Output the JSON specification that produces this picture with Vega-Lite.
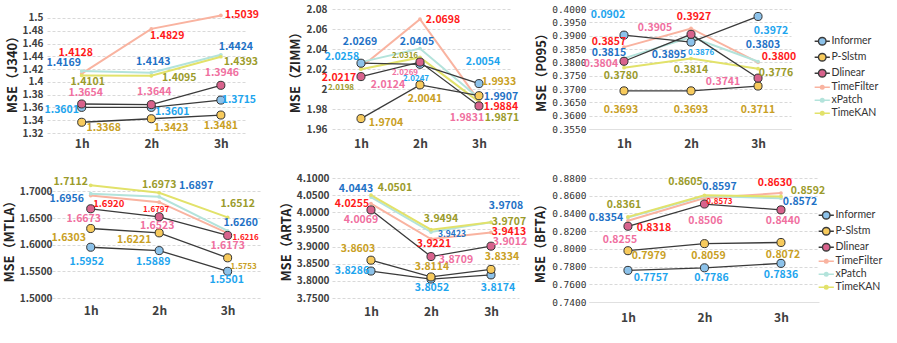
{
"$schema":"https://vega.github.io/schema/vega-lite/v6.json",
"padding":{"left":3,"top":4,"right":5,"bottom":5},
"bounds":"flush",
"columns":3,
"spacing":{"row":45,"column":70},
"config":{
 "view":{"stroke":null},
 "axis":{"grid":true,"gridColor":"#d9d9d9","gridDash":[3,2],"ticks":false,"tickSize":0,"domain":false,"labelColor":"#404040","labelFont":"Noto Sans CJK SC","labelFontWeight":"bold","labelFontSize":10,"titleFont":"Noto Sans CJK SC","titleFontSize":13,"titleFontWeight":"bold","titleColor":"#222222"},
 "axisX":{"grid":false,"labelFontSize":12,"labelAngle":0,"title":null},
 "text":{"font":"Noto Sans CJK SC","fontWeight":"bold","fontSize":10.5,"align":"center","baseline":"middle"}
},
"resolve":{"scale":{"stroke":"independent","fill":"independent"},"legend":{"stroke":"independent","fill":"independent"}},
"datasets":{"d":[
{"panel":"J340","model":"Informer","hour":"1h","mse":1.3601,"label":"1.3601"},
{"panel":"J340","model":"Informer","hour":"2h","mse":1.3601,"label":"1.3601"},
{"panel":"J340","model":"Informer","hour":"3h","mse":1.3715,"label":"1.3715"},
{"panel":"J340","model":"P-Slstm","hour":"1h","mse":1.3368,"label":"1.3368"},
{"panel":"J340","model":"P-Slstm","hour":"2h","mse":1.3423,"label":"1.3423"},
{"panel":"J340","model":"P-Slstm","hour":"3h","mse":1.3481,"label":"1.3481"},
{"panel":"J340","model":"Dlinear","hour":"1h","mse":1.3654,"label":"1.3654"},
{"panel":"J340","model":"Dlinear","hour":"2h","mse":1.3644,"label":"1.3644"},
{"panel":"J340","model":"Dlinear","hour":"3h","mse":1.3946,"label":"1.3946"},
{"panel":"J340","model":"TimeFilter","hour":"1h","mse":1.4128,"label":"1.4128"},
{"panel":"J340","model":"TimeFilter","hour":"2h","mse":1.4829,"label":"1.4829"},
{"panel":"J340","model":"TimeFilter","hour":"3h","mse":1.5039,"label":"1.5039"},
{"panel":"J340","model":"xPatch","hour":"1h","mse":1.4169,"label":"1.4169"},
{"panel":"J340","model":"xPatch","hour":"2h","mse":1.4143,"label":"1.4143"},
{"panel":"J340","model":"xPatch","hour":"3h","mse":1.4424,"label":"1.4424"},
{"panel":"J340","model":"TimeKAN","hour":"1h","mse":1.4101,"label":"1.4101"},
{"panel":"J340","model":"TimeKAN","hour":"2h","mse":1.4095,"label":"1.4095"},
{"panel":"J340","model":"TimeKAN","hour":"3h","mse":1.4393,"label":"1.4393"},
{"panel":"ZIMM","model":"Informer","hour":"1h","mse":2.0258,"label":"2.0258"},
{"panel":"ZIMM","model":"Informer","hour":"2h","mse":2.0247,"label":"2.0247"},
{"panel":"ZIMM","model":"Informer","hour":"3h","mse":2.0054,"label":"2.0054"},
{"panel":"ZIMM","model":"P-Slstm","hour":"1h","mse":1.9704,"label":"1.9704"},
{"panel":"ZIMM","model":"P-Slstm","hour":"2h","mse":2.0041,"label":"2.0041"},
{"panel":"ZIMM","model":"P-Slstm","hour":"3h","mse":1.9933,"label":"1.9933"},
{"panel":"ZIMM","model":"Dlinear","hour":"1h","mse":2.0124,"label":"2.0124"},
{"panel":"ZIMM","model":"Dlinear","hour":"2h","mse":2.0269,"label":"2.0269"},
{"panel":"ZIMM","model":"Dlinear","hour":"3h","mse":1.9831,"label":"1.9831"},
{"panel":"ZIMM","model":"TimeFilter","hour":"1h","mse":2.0217,"label":"2.0217"},
{"panel":"ZIMM","model":"TimeFilter","hour":"2h","mse":2.0698,"label":"2.0698"},
{"panel":"ZIMM","model":"TimeFilter","hour":"3h","mse":1.9884,"label":"1.9884"},
{"panel":"ZIMM","model":"xPatch","hour":"1h","mse":2.0269,"label":"2.0269"},
{"panel":"ZIMM","model":"xPatch","hour":"2h","mse":2.0405,"label":"2.0405"},
{"panel":"ZIMM","model":"xPatch","hour":"3h","mse":1.9907,"label":"1.9907"},
{"panel":"ZIMM","model":"TimeKAN","hour":"1h","mse":2.0198,"label":"2.0198"},
{"panel":"ZIMM","model":"TimeKAN","hour":"2h","mse":2.0316,"label":"2.0316"},
{"panel":"ZIMM","model":"TimeKAN","hour":"3h","mse":1.9871,"label":"1.9871"},
{"panel":"P095","model":"Informer","hour":"1h","mse":0.3902,"label":"0.0902"},
{"panel":"P095","model":"Informer","hour":"2h","mse":0.3876,"label":"0.3876"},
{"panel":"P095","model":"Informer","hour":"3h","mse":0.3972,"label":"0.3972"},
{"panel":"P095","model":"P-Slstm","hour":"1h","mse":0.3693,"label":"0.3693"},
{"panel":"P095","model":"P-Slstm","hour":"2h","mse":0.3693,"label":"0.3693"},
{"panel":"P095","model":"P-Slstm","hour":"3h","mse":0.3711,"label":"0.3711"},
{"panel":"P095","model":"Dlinear","hour":"1h","mse":0.3804,"label":"0.3804"},
{"panel":"P095","model":"Dlinear","hour":"2h","mse":0.3905,"label":"0.3905"},
{"panel":"P095","model":"Dlinear","hour":"3h","mse":0.3741,"label":"0.3741"},
{"panel":"P095","model":"TimeFilter","hour":"1h","mse":0.3857,"label":"0.3857"},
{"panel":"P095","model":"TimeFilter","hour":"2h","mse":0.3927,"label":"0.3927"},
{"panel":"P095","model":"TimeFilter","hour":"3h","mse":0.3800,"label":"0.3800"},
{"panel":"P095","model":"xPatch","hour":"1h","mse":0.3815,"label":"0.3815"},
{"panel":"P095","model":"xPatch","hour":"2h","mse":0.3895,"label":"0.3895"},
{"panel":"P095","model":"xPatch","hour":"3h","mse":0.3803,"label":"0.3803"},
{"panel":"P095","model":"TimeKAN","hour":"1h","mse":0.3780,"label":"0.3780"},
{"panel":"P095","model":"TimeKAN","hour":"2h","mse":0.3814,"label":"0.3814"},
{"panel":"P095","model":"TimeKAN","hour":"3h","mse":0.3776,"label":"0.3776"},
{"panel":"MTLA","model":"Informer","hour":"1h","mse":1.5952,"label":"1.5952"},
{"panel":"MTLA","model":"Informer","hour":"2h","mse":1.5889,"label":"1.5889"},
{"panel":"MTLA","model":"Informer","hour":"3h","mse":1.5501,"label":"1.5501"},
{"panel":"MTLA","model":"P-Slstm","hour":"1h","mse":1.6303,"label":"1.6303"},
{"panel":"MTLA","model":"P-Slstm","hour":"2h","mse":1.6221,"label":"1.6221"},
{"panel":"MTLA","model":"P-Slstm","hour":"3h","mse":1.5753,"label":"1.5753"},
{"panel":"MTLA","model":"Dlinear","hour":"1h","mse":1.6673,"label":"1.6673"},
{"panel":"MTLA","model":"Dlinear","hour":"2h","mse":1.6523,"label":"1.6523"},
{"panel":"MTLA","model":"Dlinear","hour":"3h","mse":1.6173,"label":"1.6173"},
{"panel":"MTLA","model":"TimeFilter","hour":"1h","mse":1.6920,"label":"1.6920"},
{"panel":"MTLA","model":"TimeFilter","hour":"2h","mse":1.6797,"label":"1.6797"},
{"panel":"MTLA","model":"TimeFilter","hour":"3h","mse":1.6216,"label":"1.6216"},
{"panel":"MTLA","model":"xPatch","hour":"1h","mse":1.6956,"label":"1.6956"},
{"panel":"MTLA","model":"xPatch","hour":"2h","mse":1.6897,"label":"1.6897"},
{"panel":"MTLA","model":"xPatch","hour":"3h","mse":1.6260,"label":"1.6260"},
{"panel":"MTLA","model":"TimeKAN","hour":"1h","mse":1.7112,"label":"1.7112"},
{"panel":"MTLA","model":"TimeKAN","hour":"2h","mse":1.6973,"label":"1.6973"},
{"panel":"MTLA","model":"TimeKAN","hour":"3h","mse":1.6512,"label":"1.6512"},
{"panel":"ARTA","model":"Informer","hour":"1h","mse":3.8286,"label":"3.8286"},
{"panel":"ARTA","model":"Informer","hour":"2h","mse":3.8052,"label":"3.8052"},
{"panel":"ARTA","model":"Informer","hour":"3h","mse":3.8174,"label":"3.8174"},
{"panel":"ARTA","model":"P-Slstm","hour":"1h","mse":3.8603,"label":"3.8603"},
{"panel":"ARTA","model":"P-Slstm","hour":"2h","mse":3.8114,"label":"3.8114"},
{"panel":"ARTA","model":"P-Slstm","hour":"3h","mse":3.8334,"label":"3.8334"},
{"panel":"ARTA","model":"Dlinear","hour":"1h","mse":4.0069,"label":"4.0069"},
{"panel":"ARTA","model":"Dlinear","hour":"2h","mse":3.8709,"label":"3.8709"},
{"panel":"ARTA","model":"Dlinear","hour":"3h","mse":3.9012,"label":"3.9012"},
{"panel":"ARTA","model":"TimeFilter","hour":"1h","mse":4.0255,"label":"4.0255"},
{"panel":"ARTA","model":"TimeFilter","hour":"2h","mse":3.9221,"label":"3.9221"},
{"panel":"ARTA","model":"TimeFilter","hour":"3h","mse":3.9413,"label":"3.9413"},
{"panel":"ARTA","model":"xPatch","hour":"1h","mse":4.0443,"label":"4.0443"},
{"panel":"ARTA","model":"xPatch","hour":"2h","mse":3.9423,"label":"3.9423"},
{"panel":"ARTA","model":"xPatch","hour":"3h","mse":3.9708,"label":"3.9708"},
{"panel":"ARTA","model":"TimeKAN","hour":"1h","mse":4.0501,"label":"4.0501"},
{"panel":"ARTA","model":"TimeKAN","hour":"2h","mse":3.9494,"label":"3.9494"},
{"panel":"ARTA","model":"TimeKAN","hour":"3h","mse":3.9707,"label":"3.9707"},
{"panel":"BFTA","model":"Informer","hour":"1h","mse":0.7757,"label":"0.7757"},
{"panel":"BFTA","model":"Informer","hour":"2h","mse":0.7786,"label":"0.7786"},
{"panel":"BFTA","model":"Informer","hour":"3h","mse":0.7836,"label":"0.7836"},
{"panel":"BFTA","model":"P-Slstm","hour":"1h","mse":0.7979,"label":"0.7979"},
{"panel":"BFTA","model":"P-Slstm","hour":"2h","mse":0.8059,"label":"0.8059"},
{"panel":"BFTA","model":"P-Slstm","hour":"3h","mse":0.8072,"label":"0.8072"},
{"panel":"BFTA","model":"Dlinear","hour":"1h","mse":0.8255,"label":"0.8255"},
{"panel":"BFTA","model":"Dlinear","hour":"2h","mse":0.8506,"label":"0.8506"},
{"panel":"BFTA","model":"Dlinear","hour":"3h","mse":0.8440,"label":"0.8440"},
{"panel":"BFTA","model":"TimeFilter","hour":"1h","mse":0.8318,"label":"0.8318"},
{"panel":"BFTA","model":"TimeFilter","hour":"2h","mse":0.8573,"label":"0.8573"},
{"panel":"BFTA","model":"TimeFilter","hour":"3h","mse":0.8630,"label":"0.8630"},
{"panel":"BFTA","model":"xPatch","hour":"1h","mse":0.8354,"label":"0.8354"},
{"panel":"BFTA","model":"xPatch","hour":"2h","mse":0.8597,"label":"0.8597"},
{"panel":"BFTA","model":"xPatch","hour":"3h","mse":0.8572,"label":"0.8572"},
{"panel":"BFTA","model":"TimeKAN","hour":"1h","mse":0.8361,"label":"0.8361"},
{"panel":"BFTA","model":"TimeKAN","hour":"2h","mse":0.8605,"label":"0.8605"},
{"panel":"BFTA","model":"TimeKAN","hour":"3h","mse":0.8592,"label":"0.8592"}
]},
"concat":[
{"width":199,"height":124,"data":{"name":"d"},"transform":[{"filter":"datum.panel=='J340'"}],
 "encoding":{"x":{"field":"hour","type":"ordinal","scale":{"type":"point","padding":0.43,"align":0.58},"axis":{"labelPadding":5}},
  "y":{"field":"mse","type":"quantitative","scale":{"domain":[1.32,1.514],"nice":false,"zero":false},"axis":{"title":"MSE（J340）","values":[1.32,1.34,1.36,1.38,1.4,1.42,1.44,1.46,1.48,1.5],"format":"~f","labelPadding":4,"titlePadding":3}}},
 "layer":[
  {"transform":[{"filter":"indexof(['TimeFilter','xPatch','TimeKAN'],datum.model)>=0"}],"mark":{"type":"line","strokeWidth":2},"encoding":{"stroke":{"field":"model","type":"nominal","scale":{"domain":["Informer","P-Slstm","Dlinear","TimeFilter","xPatch","TimeKAN"],"range":["#3a3a3a","#3a3a3a","#3a3a3a","#f9b3a0","#b3e3db","#e2e26a"]},"legend":null}}},
  {"transform":[{"filter":"indexof(['Informer','P-Slstm','Dlinear'],datum.model)>=0"}],"mark":{"type":"line","strokeWidth":1.3},"encoding":{"stroke":{"field":"model","type":"nominal","scale":{"domain":["Informer","P-Slstm","Dlinear","TimeFilter","xPatch","TimeKAN"],"range":["#3a3a3a","#3a3a3a","#3a3a3a","#f9b3a0","#b3e3db","#e2e26a"]},"legend":null}}},
  {"transform":[{"filter":"indexof(['TimeFilter','xPatch','TimeKAN'],datum.model)>=0"}],"mark":{"type":"point","filled":true,"size":14,"opacity":1},"encoding":{"fill":{"field":"model","type":"nominal","scale":{"domain":["Informer","P-Slstm","Dlinear","TimeFilter","xPatch","TimeKAN"],"range":["#8cc2ea","#f7ca5c","#d8628c","#f9b3a0","#b3e3db","#e2e26a"]},"legend":null}}},
  {"transform":[{"filter":"indexof(['Informer','P-Slstm','Dlinear'],datum.model)>=0"}],"mark":{"type":"point","filled":true,"size":65,"stroke":"#333333","strokeWidth":1,"opacity":1},"encoding":{"fill":{"field":"model","type":"nominal","scale":{"domain":["Informer","P-Slstm","Dlinear","TimeFilter","xPatch","TimeKAN"],"range":["#8cc2ea","#f7ca5c","#d8628c","#f9b3a0","#b3e3db","#e2e26a"]},"legend":null}}},
  {"transform":[{"filter":"datum.model=='Informer'"}],"encoding":{"text":{"field":"label","type":"nominal"},"color":{"value":"#1ea5ee"}},"layer":[
   {"transform":[{"filter":"datum.hour=='1h'"}],"mark":{"type":"text","dx":-20,"dy":3}},
   {"transform":[{"filter":"datum.hour=='2h'"}],"mark":{"type":"text","dx":21,"dy":5}},
   {"transform":[{"filter":"datum.hour=='3h'"}],"mark":{"type":"text","dx":18,"dy":0}}]},
  {"transform":[{"filter":"datum.model=='P-Slstm'"}],"encoding":{"text":{"field":"label","type":"nominal"},"color":{"value":"#c9a024"}},"layer":[
   {"transform":[{"filter":"datum.hour=='1h'"}],"mark":{"type":"text","dx":22,"dy":6}},
   {"transform":[{"filter":"datum.hour=='2h'"}],"mark":{"type":"text","dx":20,"dy":9}},
   {"transform":[{"filter":"datum.hour=='3h'"}],"mark":{"type":"text","dx":0,"dy":11}}]},
  {"transform":[{"filter":"datum.model=='Dlinear'"}],"encoding":{"text":{"field":"label","type":"nominal"},"color":{"value":"#f0709f"}},"layer":[
   {"transform":[{"filter":"datum.hour=='1h'"}],"mark":{"type":"text","dx":4,"dy":-11}},
   {"transform":[{"filter":"datum.hour=='2h'"}],"mark":{"type":"text","dx":3,"dy":-13}},
   {"transform":[{"filter":"datum.hour=='3h'"}],"mark":{"type":"text","dx":1,"dy":-12}}]},
  {"transform":[{"filter":"datum.model=='TimeFilter'"}],"encoding":{"text":{"field":"label","type":"nominal"},"color":{"value":"#ff1a1a"}},"layer":[
   {"transform":[{"filter":"datum.hour=='1h'"}],"mark":{"type":"text","dx":-6,"dy":-21}},
   {"transform":[{"filter":"datum.hour=='2h'"}],"mark":{"type":"text","dx":16,"dy":7}},
   {"transform":[{"filter":"datum.hour=='3h'"}],"mark":{"type":"text","dx":21,"dy":0}}]},
  {"transform":[{"filter":"datum.model=='xPatch'"}],"encoding":{"text":{"field":"label","type":"nominal"},"color":{"value":"#1f72c6"}},"layer":[
   {"transform":[{"filter":"datum.hour=='1h'"}],"mark":{"type":"text","dx":-18,"dy":-8}},
   {"transform":[{"filter":"datum.hour=='2h'"}],"mark":{"type":"text","dx":2,"dy":-11}},
   {"transform":[{"filter":"datum.hour=='3h'"}],"mark":{"type":"text","dx":15,"dy":-8}}]},
  {"transform":[{"filter":"datum.model=='TimeKAN'"}],"encoding":{"text":{"field":"label","type":"nominal"},"color":{"value":"#9b9b2b"}},"layer":[
   {"transform":[{"filter":"datum.hour=='1h'"}],"mark":{"type":"text","dx":6,"dy":7}},
   {"transform":[{"filter":"datum.hour=='2h'"}],"mark":{"type":"text","dx":28,"dy":2}},
   {"transform":[{"filter":"datum.hour=='3h'"}],"mark":{"type":"text","dx":20,"dy":5}}]}
 ]},
{"width":179,"height":120,"data":{"name":"d"},"transform":[{"filter":"datum.panel=='ZIMM'"}],
 "encoding":{"x":{"field":"hour","type":"ordinal","scale":{"type":"point","padding":0.517,"align":0.475},"axis":{"labelPadding":9}},
  "y":{"field":"mse","type":"quantitative","scale":{"domain":[1.96,2.08],"nice":false,"zero":false},"axis":{"title":"MSE（ZIMM）","values":[1.96,1.98,2,2.02,2.04,2.06,2.08],"format":"~f","labelPadding":5,"titlePadding":4}}},
 "layer":[
  {"transform":[{"filter":"indexof(['TimeFilter','xPatch','TimeKAN'],datum.model)>=0"}],"mark":{"type":"line","strokeWidth":2},"encoding":{"stroke":{"field":"model","type":"nominal","scale":{"domain":["Informer","P-Slstm","Dlinear","TimeFilter","xPatch","TimeKAN"],"range":["#3a3a3a","#3a3a3a","#3a3a3a","#f9b3a0","#b3e3db","#e2e26a"]},"legend":null}}},
  {"transform":[{"filter":"indexof(['Informer','P-Slstm','Dlinear'],datum.model)>=0"}],"mark":{"type":"line","strokeWidth":1.3},"encoding":{"stroke":{"field":"model","type":"nominal","scale":{"domain":["Informer","P-Slstm","Dlinear","TimeFilter","xPatch","TimeKAN"],"range":["#3a3a3a","#3a3a3a","#3a3a3a","#f9b3a0","#b3e3db","#e2e26a"]},"legend":null}}},
  {"transform":[{"filter":"indexof(['TimeFilter','xPatch','TimeKAN'],datum.model)>=0"}],"mark":{"type":"point","filled":true,"size":14,"opacity":1},"encoding":{"fill":{"field":"model","type":"nominal","scale":{"domain":["Informer","P-Slstm","Dlinear","TimeFilter","xPatch","TimeKAN"],"range":["#8cc2ea","#f7ca5c","#d8628c","#f9b3a0","#b3e3db","#e2e26a"]},"legend":null}}},
  {"transform":[{"filter":"indexof(['Informer','P-Slstm','Dlinear'],datum.model)>=0"}],"mark":{"type":"point","filled":true,"size":65,"stroke":"#333333","strokeWidth":1,"opacity":1},"encoding":{"fill":{"field":"model","type":"nominal","scale":{"domain":["Informer","P-Slstm","Dlinear","TimeFilter","xPatch","TimeKAN"],"range":["#8cc2ea","#f7ca5c","#d8628c","#f9b3a0","#b3e3db","#e2e26a"]},"legend":null}}},
  {"transform":[{"filter":"datum.model=='Informer'"}],"encoding":{"text":{"field":"label","type":"nominal"},"color":{"value":"#1ea5ee"}},"layer":[
   {"transform":[{"filter":"datum.hour=='1h'"}],"mark":{"type":"text","dx":-19,"dy":-6}},
   {"transform":[{"filter":"datum.hour=='2h'"}],"mark":{"type":"text","dx":-4,"dy":15,"fontSize":8}},
   {"transform":[{"filter":"datum.hour=='3h'"}],"mark":{"type":"text","dx":4,"dy":-22}}]},
  {"transform":[{"filter":"datum.model=='P-Slstm'"}],"encoding":{"text":{"field":"label","type":"nominal"},"color":{"value":"#c9a024"}},"layer":[
   {"transform":[{"filter":"datum.hour=='1h'"}],"mark":{"type":"text","dx":25,"dy":4}},
   {"transform":[{"filter":"datum.hour=='2h'"}],"mark":{"type":"text","dx":5,"dy":14}},
   {"transform":[{"filter":"datum.hour=='3h'"}],"mark":{"type":"text","dx":20,"dy":-14}}]},
  {"transform":[{"filter":"datum.model=='Dlinear'"}],"encoding":{"text":{"field":"label","type":"nominal"},"color":{"value":"#f0709f"}},"layer":[
   {"transform":[{"filter":"datum.hour=='1h'"}],"mark":{"type":"text","dx":27,"dy":8}},
   {"transform":[{"filter":"datum.hour=='2h'"}],"mark":{"type":"text","dx":-15,"dy":11,"fontSize":8}},
   {"transform":[{"filter":"datum.hour=='3h'"}],"mark":{"type":"text","dx":-12,"dy":12}}]},
  {"transform":[{"filter":"datum.model=='TimeFilter'"}],"encoding":{"text":{"field":"label","type":"nominal"},"color":{"value":"#ff1a1a"}},"layer":[
   {"transform":[{"filter":"datum.hour=='1h'"}],"mark":{"type":"text","dx":-22,"dy":11}},
   {"transform":[{"filter":"datum.hour=='2h'"}],"mark":{"type":"text","dx":23,"dy":1}},
   {"transform":[{"filter":"datum.hour=='3h'"}],"mark":{"type":"text","dx":22,"dy":6}}]},
  {"transform":[{"filter":"datum.model=='xPatch'"}],"encoding":{"text":{"field":"label","type":"nominal"},"color":{"value":"#1f72c6"}},"layer":[
   {"transform":[{"filter":"datum.hour=='1h'"}],"mark":{"type":"text","dx":-1,"dy":-20}},
   {"transform":[{"filter":"datum.hour=='2h'"}],"mark":{"type":"text","dx":-3,"dy":-7}},
   {"transform":[{"filter":"datum.hour=='3h'"}],"mark":{"type":"text","dx":22,"dy":-1}}]},
  {"transform":[{"filter":"datum.model=='TimeKAN'"}],"encoding":{"text":{"field":"label","type":"nominal"},"color":{"value":"#9b9b2b"}},"layer":[
   {"transform":[{"filter":"datum.hour=='1h'"}],"mark":{"type":"text","dx":-20,"dy":19,"fontSize":8}},
   {"transform":[{"filter":"datum.hour=='2h'"}],"mark":{"type":"text","dx":-15,"dy":-1,"fontSize":8}},
   {"transform":[{"filter":"datum.hour=='3h'"}],"mark":{"type":"text","dx":23,"dy":16}}]}
 ]},
{"width":202,"height":120,"data":{"name":"d"},"transform":[{"filter":"datum.panel=='P095'"}],
 "encoding":{"x":{"field":"hour","type":"ordinal","scale":{"type":"point","padding":0.507,"align":0.515},"axis":{"labelPadding":9,"domain":true,"domainColor":"#e0e0e0"}},
  "y":{"field":"mse","type":"quantitative","scale":{"domain":[0.355,0.4],"nice":false,"zero":false},"axis":{"title":"MSE（P095）","values":[0.355,0.36,0.365,0.37,0.375,0.38,0.385,0.39,0.395,0.4],"format":".4f","labelFont":"DejaVu Sans Mono","labelFontWeight":"normal","labelFontSize":9.5,"labelColor":"#333333","labelPadding":3,"titlePadding":3}}},
 "layer":[
  {"transform":[{"filter":"indexof(['TimeFilter','xPatch','TimeKAN'],datum.model)>=0"}],"mark":{"type":"line","strokeWidth":2},"encoding":{"stroke":{"field":"model","type":"nominal","scale":{"domain":["Informer","P-Slstm","Dlinear","TimeFilter","xPatch","TimeKAN"],"range":["#3a3a3a","#3a3a3a","#3a3a3a","#f9b3a0","#b3e3db","#e2e26a"]},"legend":{"orient":"none","legendX":228,"legendY":27,"title":null,"padding":0,"symbolSize":64,"symbolStrokeWidth":1.4,"labelOffset":4,"rowPadding":2,"labelFont":"Lato","labelFontSize":10.5,"labelColor":"#333333","encode":{"symbols":{"update":{"shape":{"signal":"indexof(['Informer','P-Slstm','Dlinear'],datum.value)>=0?'M-1.9,0H-0.95M0.95,0H1.9M-0.95,0A0.95,0.95,0,1,0,0.95,0A0.95,0.95,0,1,0,-0.95,0Z':'M-1.9,0H1.9M-0.45,0A0.45,0.45,0,1,0,0.45,0A0.45,0.45,0,1,0,-0.45,0Z'"},"fill":{"signal":"datum.value==='Informer'?'#8cc2ea':datum.value==='P-Slstm'?'#f7ca5c':datum.value==='Dlinear'?'#d8628c':datum.value==='TimeFilter'?'#f9b3a0':datum.value==='xPatch'?'#b3e3db':'#e2e26a'"},"fillOpacity":{"value":1},"opacity":{"value":1}}}}}}}},
  {"transform":[{"filter":"indexof(['Informer','P-Slstm','Dlinear'],datum.model)>=0"}],"mark":{"type":"line","strokeWidth":1.3},"encoding":{"stroke":{"field":"model","type":"nominal","scale":{"domain":["Informer","P-Slstm","Dlinear","TimeFilter","xPatch","TimeKAN"],"range":["#3a3a3a","#3a3a3a","#3a3a3a","#f9b3a0","#b3e3db","#e2e26a"]},"legend":{"orient":"none","legendX":228,"legendY":27,"title":null,"padding":0,"symbolSize":64,"symbolStrokeWidth":1.4,"labelOffset":4,"rowPadding":2,"labelFont":"Lato","labelFontSize":10.5,"labelColor":"#333333","encode":{"symbols":{"update":{"shape":{"signal":"indexof(['Informer','P-Slstm','Dlinear'],datum.value)>=0?'M-1.9,0H-0.95M0.95,0H1.9M-0.95,0A0.95,0.95,0,1,0,0.95,0A0.95,0.95,0,1,0,-0.95,0Z':'M-1.9,0H1.9M-0.45,0A0.45,0.45,0,1,0,0.45,0A0.45,0.45,0,1,0,-0.45,0Z'"},"fill":{"signal":"datum.value==='Informer'?'#8cc2ea':datum.value==='P-Slstm'?'#f7ca5c':datum.value==='Dlinear'?'#d8628c':datum.value==='TimeFilter'?'#f9b3a0':datum.value==='xPatch'?'#b3e3db':'#e2e26a'"},"fillOpacity":{"value":1},"opacity":{"value":1}}}}}}}},
  {"transform":[{"filter":"indexof(['TimeFilter','xPatch','TimeKAN'],datum.model)>=0"}],"mark":{"type":"point","filled":true,"size":14,"opacity":1},"encoding":{"fill":{"field":"model","type":"nominal","scale":{"domain":["Informer","P-Slstm","Dlinear","TimeFilter","xPatch","TimeKAN"],"range":["#8cc2ea","#f7ca5c","#d8628c","#f9b3a0","#b3e3db","#e2e26a"]},"legend":null}}},
  {"transform":[{"filter":"indexof(['Informer','P-Slstm','Dlinear'],datum.model)>=0"}],"mark":{"type":"point","filled":true,"size":65,"stroke":"#333333","strokeWidth":1,"opacity":1},"encoding":{"fill":{"field":"model","type":"nominal","scale":{"domain":["Informer","P-Slstm","Dlinear","TimeFilter","xPatch","TimeKAN"],"range":["#8cc2ea","#f7ca5c","#d8628c","#f9b3a0","#b3e3db","#e2e26a"]},"legend":null}}},
  {"transform":[{"filter":"datum.model=='Informer'"}],"encoding":{"text":{"field":"label","type":"nominal"},"color":{"value":"#1ea5ee"}},"layer":[
   {"transform":[{"filter":"datum.hour=='1h'"}],"mark":{"type":"text","dx":-16,"dy":-20}},
   {"transform":[{"filter":"datum.hour=='2h'"}],"mark":{"type":"text","dx":10,"dy":11,"fontSize":8}},
   {"transform":[{"filter":"datum.hour=='3h'"}],"mark":{"type":"text","dx":13,"dy":15}}]},
  {"transform":[{"filter":"datum.model=='P-Slstm'"}],"encoding":{"text":{"field":"label","type":"nominal"},"color":{"value":"#c9a024"}},"layer":[
   {"transform":[{"filter":"datum.hour=='1h'"}],"mark":{"type":"text","dx":-3,"dy":19}},
   {"transform":[{"filter":"datum.hour=='2h'"}],"mark":{"type":"text","dx":0,"dy":19}},
   {"transform":[{"filter":"datum.hour=='3h'"}],"mark":{"type":"text","dx":0,"dy":24}}]},
  {"transform":[{"filter":"datum.model=='Dlinear'"}],"encoding":{"text":{"field":"label","type":"nominal"},"color":{"value":"#f0709f"}},"layer":[
   {"transform":[{"filter":"datum.hour=='1h'"}],"mark":{"type":"text","dx":-23,"dy":3}},
   {"transform":[{"filter":"datum.hour=='2h'"}],"mark":{"type":"text","dx":-36,"dy":-6}},
   {"transform":[{"filter":"datum.hour=='3h'"}],"mark":{"type":"text","dx":-35,"dy":4}}]},
  {"transform":[{"filter":"datum.model=='TimeFilter'"}],"encoding":{"text":{"field":"label","type":"nominal"},"color":{"value":"#ff1a1a"}},"layer":[
   {"transform":[{"filter":"datum.hour=='1h'"}],"mark":{"type":"text","dx":-15,"dy":-5}},
   {"transform":[{"filter":"datum.hour=='2h'"}],"mark":{"type":"text","dx":3,"dy":-11}},
   {"transform":[{"filter":"datum.hour=='3h'"}],"mark":{"type":"text","dx":21,"dy":-5}}]},
  {"transform":[{"filter":"datum.model=='xPatch'"}],"encoding":{"text":{"field":"label","type":"nominal"},"color":{"value":"#1f72c6"}},"layer":[
   {"transform":[{"filter":"datum.hour=='1h'"}],"mark":{"type":"text","dx":-15,"dy":-5}},
   {"transform":[{"filter":"datum.hour=='2h'"}],"mark":{"type":"text","dx":-22,"dy":18}},
   {"transform":[{"filter":"datum.hour=='3h'"}],"mark":{"type":"text","dx":5,"dy":-17}}]},
  {"transform":[{"filter":"datum.model=='TimeKAN'"}],"encoding":{"text":{"field":"label","type":"nominal"},"color":{"value":"#9b9b2b"}},"layer":[
   {"transform":[{"filter":"datum.hour=='1h'"}],"mark":{"type":"text","dx":-3,"dy":8}},
   {"transform":[{"filter":"datum.hour=='2h'"}],"mark":{"type":"text","dx":0,"dy":11}},
   {"transform":[{"filter":"datum.hour=='3h'"}],"mark":{"type":"text","dx":18,"dy":4}}]}
 ]},
{"width":215,"height":120,"data":{"name":"d"},"transform":[{"filter":"datum.panel=='MTLA'"}],
 "encoding":{"x":{"field":"hour","type":"ordinal","scale":{"type":"point","padding":0.57,"align":0.56},"axis":{"labelPadding":7}},
  "y":{"field":"mse","type":"quantitative","scale":{"domain":[1.5,1.725],"nice":false,"zero":false},"axis":{"title":"MSE（MTLA）","values":[1.5,1.55,1.6,1.65,1.7],"format":".4f","labelPadding":4,"titlePadding":3,"offset":-9}}},
 "layer":[
  {"transform":[{"filter":"indexof(['TimeFilter','xPatch','TimeKAN'],datum.model)>=0"}],"mark":{"type":"line","strokeWidth":2},"encoding":{"stroke":{"field":"model","type":"nominal","scale":{"domain":["Informer","P-Slstm","Dlinear","TimeFilter","xPatch","TimeKAN"],"range":["#3a3a3a","#3a3a3a","#3a3a3a","#f9b3a0","#b3e3db","#e2e26a"]},"legend":null}}},
  {"transform":[{"filter":"indexof(['Informer','P-Slstm','Dlinear'],datum.model)>=0"}],"mark":{"type":"line","strokeWidth":1.3},"encoding":{"stroke":{"field":"model","type":"nominal","scale":{"domain":["Informer","P-Slstm","Dlinear","TimeFilter","xPatch","TimeKAN"],"range":["#3a3a3a","#3a3a3a","#3a3a3a","#f9b3a0","#b3e3db","#e2e26a"]},"legend":null}}},
  {"transform":[{"filter":"indexof(['TimeFilter','xPatch','TimeKAN'],datum.model)>=0"}],"mark":{"type":"point","filled":true,"size":14,"opacity":1},"encoding":{"fill":{"field":"model","type":"nominal","scale":{"domain":["Informer","P-Slstm","Dlinear","TimeFilter","xPatch","TimeKAN"],"range":["#8cc2ea","#f7ca5c","#d8628c","#f9b3a0","#b3e3db","#e2e26a"]},"legend":null}}},
  {"transform":[{"filter":"indexof(['Informer','P-Slstm','Dlinear'],datum.model)>=0"}],"mark":{"type":"point","filled":true,"size":65,"stroke":"#333333","strokeWidth":1,"opacity":1},"encoding":{"fill":{"field":"model","type":"nominal","scale":{"domain":["Informer","P-Slstm","Dlinear","TimeFilter","xPatch","TimeKAN"],"range":["#8cc2ea","#f7ca5c","#d8628c","#f9b3a0","#b3e3db","#e2e26a"]},"legend":null}}},
  {"transform":[{"filter":"datum.model=='Informer'"}],"encoding":{"text":{"field":"label","type":"nominal"},"color":{"value":"#1ea5ee"}},"layer":[
   {"transform":[{"filter":"datum.hour=='1h'"}],"mark":{"type":"text","dx":-4,"dy":15}},
   {"transform":[{"filter":"datum.hour=='2h'"}],"mark":{"type":"text","dx":-6,"dy":11}},
   {"transform":[{"filter":"datum.hour=='3h'"}],"mark":{"type":"text","dx":-1,"dy":9}}]},
  {"transform":[{"filter":"datum.model=='P-Slstm'"}],"encoding":{"text":{"field":"label","type":"nominal"},"color":{"value":"#c9a024"}},"layer":[
   {"transform":[{"filter":"datum.hour=='1h'"}],"mark":{"type":"text","dx":-22,"dy":9}},
   {"transform":[{"filter":"datum.hour=='2h'"}],"mark":{"type":"text","dx":-25,"dy":7}},
   {"transform":[{"filter":"datum.hour=='3h'"}],"mark":{"type":"text","dx":16,"dy":9,"fontSize":8}}]},
  {"transform":[{"filter":"datum.model=='Dlinear'"}],"encoding":{"text":{"field":"label","type":"nominal"},"color":{"value":"#f0709f"}},"layer":[
   {"transform":[{"filter":"datum.hour=='1h'"}],"mark":{"type":"text","dx":-7,"dy":10}},
   {"transform":[{"filter":"datum.hour=='2h'"}],"mark":{"type":"text","dx":-2,"dy":9}},
   {"transform":[{"filter":"datum.hour=='3h'"}],"mark":{"type":"text","dx":0,"dy":11}}]},
  {"transform":[{"filter":"datum.model=='TimeFilter'"}],"encoding":{"text":{"field":"label","type":"nominal"},"color":{"value":"#ff1a1a"}},"layer":[
   {"transform":[{"filter":"datum.hour=='1h'"}],"mark":{"type":"text","dx":18,"dy":8,"fontSize":9.5}},
   {"transform":[{"filter":"datum.hour=='2h'"}],"mark":{"type":"text","dx":-3,"dy":8,"fontSize":8}},
   {"transform":[{"filter":"datum.hour=='3h'"}],"mark":{"type":"text","dx":18,"dy":5,"fontSize":8}}]},
  {"transform":[{"filter":"datum.model=='xPatch'"}],"encoding":{"text":{"field":"label","type":"nominal"},"color":{"value":"#1f72c6"}},"layer":[
   {"transform":[{"filter":"datum.hour=='1h'"}],"mark":{"type":"text","dx":-24,"dy":5}},
   {"transform":[{"filter":"datum.hour=='2h'"}],"mark":{"type":"text","dx":37,"dy":-11}},
   {"transform":[{"filter":"datum.hour=='3h'"}],"mark":{"type":"text","dx":13,"dy":-8}}]},
  {"transform":[{"filter":"datum.model=='TimeKAN'"}],"encoding":{"text":{"field":"label","type":"nominal"},"color":{"value":"#9b9b2b"}},"layer":[
   {"transform":[{"filter":"datum.hour=='1h'"}],"mark":{"type":"text","dx":-20,"dy":-3}},
   {"transform":[{"filter":"datum.hour=='2h'"}],"mark":{"type":"text","dx":0,"dy":-8}},
   {"transform":[{"filter":"datum.hour=='3h'"}],"mark":{"type":"text","dx":10,"dy":-13}}]}
 ]},
{"width":187,"height":120,"data":{"name":"d"},"transform":[{"filter":"datum.panel=='ARTA'"}],
 "encoding":{"x":{"field":"hour","type":"ordinal","scale":{"type":"point","padding":0.558,"align":0.582},"axis":{"labelPadding":8}},
  "y":{"field":"mse","type":"quantitative","scale":{"domain":[3.75,4.1],"nice":false,"zero":false},"axis":{"title":"MSE（ARTA）","values":[3.75,3.8,3.85,3.9,3.95,4,4.05,4.1],"format":".4f","labelPadding":3,"titlePadding":3}}},
 "layer":[
  {"transform":[{"filter":"indexof(['TimeFilter','xPatch','TimeKAN'],datum.model)>=0"}],"mark":{"type":"line","strokeWidth":2},"encoding":{"stroke":{"field":"model","type":"nominal","scale":{"domain":["Informer","P-Slstm","Dlinear","TimeFilter","xPatch","TimeKAN"],"range":["#3a3a3a","#3a3a3a","#3a3a3a","#f9b3a0","#b3e3db","#e2e26a"]},"legend":null}}},
  {"transform":[{"filter":"indexof(['Informer','P-Slstm','Dlinear'],datum.model)>=0"}],"mark":{"type":"line","strokeWidth":1.3},"encoding":{"stroke":{"field":"model","type":"nominal","scale":{"domain":["Informer","P-Slstm","Dlinear","TimeFilter","xPatch","TimeKAN"],"range":["#3a3a3a","#3a3a3a","#3a3a3a","#f9b3a0","#b3e3db","#e2e26a"]},"legend":null}}},
  {"transform":[{"filter":"indexof(['TimeFilter','xPatch','TimeKAN'],datum.model)>=0"}],"mark":{"type":"point","filled":true,"size":14,"opacity":1},"encoding":{"fill":{"field":"model","type":"nominal","scale":{"domain":["Informer","P-Slstm","Dlinear","TimeFilter","xPatch","TimeKAN"],"range":["#8cc2ea","#f7ca5c","#d8628c","#f9b3a0","#b3e3db","#e2e26a"]},"legend":null}}},
  {"transform":[{"filter":"indexof(['Informer','P-Slstm','Dlinear'],datum.model)>=0"}],"mark":{"type":"point","filled":true,"size":65,"stroke":"#333333","strokeWidth":1,"opacity":1},"encoding":{"fill":{"field":"model","type":"nominal","scale":{"domain":["Informer","P-Slstm","Dlinear","TimeFilter","xPatch","TimeKAN"],"range":["#8cc2ea","#f7ca5c","#d8628c","#f9b3a0","#b3e3db","#e2e26a"]},"legend":null}}},
  {"transform":[{"filter":"datum.model=='Informer'"}],"encoding":{"text":{"field":"label","type":"nominal"},"color":{"value":"#1ea5ee"}},"layer":[
   {"transform":[{"filter":"datum.hour=='1h'"}],"mark":{"type":"text","dx":-19,"dy":0}},
   {"transform":[{"filter":"datum.hour=='2h'"}],"mark":{"type":"text","dx":1,"dy":9}},
   {"transform":[{"filter":"datum.hour=='3h'"}],"mark":{"type":"text","dx":7,"dy":13}}]},
  {"transform":[{"filter":"datum.model=='P-Slstm'"}],"encoding":{"text":{"field":"label","type":"nominal"},"color":{"value":"#c9a024"}},"layer":[
   {"transform":[{"filter":"datum.hour=='1h'"}],"mark":{"type":"text","dx":-13,"dy":-11}},
   {"transform":[{"filter":"datum.hour=='2h'"}],"mark":{"type":"text","dx":1,"dy":-10}},
   {"transform":[{"filter":"datum.hour=='3h'"}],"mark":{"type":"text","dx":11,"dy":-12}}]},
  {"transform":[{"filter":"datum.model=='Dlinear'"}],"encoding":{"text":{"field":"label","type":"nominal"},"color":{"value":"#f0709f"}},"layer":[
   {"transform":[{"filter":"datum.hour=='1h'"}],"mark":{"type":"text","dx":-10,"dy":10}},
   {"transform":[{"filter":"datum.hour=='2h'"}],"mark":{"type":"text","dx":25,"dy":3}},
   {"transform":[{"filter":"datum.hour=='3h'"}],"mark":{"type":"text","dx":19,"dy":-4}}]},
  {"transform":[{"filter":"datum.model=='TimeFilter'"}],"encoding":{"text":{"field":"label","type":"nominal"},"color":{"value":"#ff1a1a"}},"layer":[
   {"transform":[{"filter":"datum.hour=='1h'"}],"mark":{"type":"text","dx":-19,"dy":0}},
   {"transform":[{"filter":"datum.hour=='2h'"}],"mark":{"type":"text","dx":3,"dy":5}},
   {"transform":[{"filter":"datum.hour=='3h'"}],"mark":{"type":"text","dx":18,"dy":0}}]},
  {"transform":[{"filter":"datum.model=='xPatch'"}],"encoding":{"text":{"field":"label","type":"nominal"},"color":{"value":"#1f72c6"}},"layer":[
   {"transform":[{"filter":"datum.hour=='1h'"}],"mark":{"type":"text","dx":-15,"dy":-8}},
   {"transform":[{"filter":"datum.hour=='2h'"}],"mark":{"type":"text","dx":21,"dy":2,"fontSize":8.5}},
   {"transform":[{"filter":"datum.hour=='3h'"}],"mark":{"type":"text","dx":15,"dy":-16}}]},
  {"transform":[{"filter":"datum.model=='TimeKAN'"}],"encoding":{"text":{"field":"label","type":"nominal"},"color":{"value":"#9b9b2b"}},"layer":[
   {"transform":[{"filter":"datum.hour=='1h'"}],"mark":{"type":"text","dx":24,"dy":-7}},
   {"transform":[{"filter":"datum.hour=='2h'"}],"mark":{"type":"text","dx":10,"dy":-11}},
   {"transform":[{"filter":"datum.hour=='3h'"}],"mark":{"type":"text","dx":18,"dy":0}}]}
 ]},
{"width":230,"height":124,"data":{"name":"d"},"transform":[{"filter":"datum.panel=='BFTA'"}],
 "encoding":{"x":{"field":"hour","type":"ordinal","scale":{"type":"point","padding":0.503,"align":0.506},"axis":{"labelPadding":10,"domain":true,"domainColor":"#e0e0e0"}},
  "y":{"field":"mse","type":"quantitative","scale":{"domain":[0.74,0.88],"nice":false,"zero":false},"axis":{"title":"MSE（BFTA）","values":[0.74,0.76,0.78,0.8,0.82,0.84,0.86,0.88],"format":".4f","labelFont":"DejaVu Sans Mono","labelFontWeight":"normal","labelFontSize":9.5,"labelColor":"#333333","labelPadding":3,"titlePadding":4}}},
 "layer":[
  {"transform":[{"filter":"indexof(['TimeFilter','xPatch','TimeKAN'],datum.model)>=0"}],"mark":{"type":"line","strokeWidth":2},"encoding":{"stroke":{"field":"model","type":"nominal","scale":{"domain":["Informer","P-Slstm","Dlinear","TimeFilter","xPatch","TimeKAN"],"range":["#3a3a3a","#3a3a3a","#3a3a3a","#f9b3a0","#b3e3db","#e2e26a"]},"legend":{"orient":"none","legendX":232,"legendY":32,"title":null,"padding":0,"symbolSize":64,"symbolStrokeWidth":1.4,"labelOffset":4,"rowPadding":2,"labelFont":"Lato","labelFontSize":10.5,"labelColor":"#333333","encode":{"symbols":{"update":{"shape":{"signal":"indexof(['Informer','P-Slstm','Dlinear'],datum.value)>=0?'M-1.9,0H-0.95M0.95,0H1.9M-0.95,0A0.95,0.95,0,1,0,0.95,0A0.95,0.95,0,1,0,-0.95,0Z':'M-1.9,0H1.9M-0.45,0A0.45,0.45,0,1,0,0.45,0A0.45,0.45,0,1,0,-0.45,0Z'"},"fill":{"signal":"datum.value==='Informer'?'#8cc2ea':datum.value==='P-Slstm'?'#f7ca5c':datum.value==='Dlinear'?'#d8628c':datum.value==='TimeFilter'?'#f9b3a0':datum.value==='xPatch'?'#b3e3db':'#e2e26a'"},"fillOpacity":{"value":1},"opacity":{"value":1}}}}}}}},
  {"transform":[{"filter":"indexof(['Informer','P-Slstm','Dlinear'],datum.model)>=0"}],"mark":{"type":"line","strokeWidth":1.3},"encoding":{"stroke":{"field":"model","type":"nominal","scale":{"domain":["Informer","P-Slstm","Dlinear","TimeFilter","xPatch","TimeKAN"],"range":["#3a3a3a","#3a3a3a","#3a3a3a","#f9b3a0","#b3e3db","#e2e26a"]},"legend":{"orient":"none","legendX":232,"legendY":32,"title":null,"padding":0,"symbolSize":64,"symbolStrokeWidth":1.4,"labelOffset":4,"rowPadding":2,"labelFont":"Lato","labelFontSize":10.5,"labelColor":"#333333","encode":{"symbols":{"update":{"shape":{"signal":"indexof(['Informer','P-Slstm','Dlinear'],datum.value)>=0?'M-1.9,0H-0.95M0.95,0H1.9M-0.95,0A0.95,0.95,0,1,0,0.95,0A0.95,0.95,0,1,0,-0.95,0Z':'M-1.9,0H1.9M-0.45,0A0.45,0.45,0,1,0,0.45,0A0.45,0.45,0,1,0,-0.45,0Z'"},"fill":{"signal":"datum.value==='Informer'?'#8cc2ea':datum.value==='P-Slstm'?'#f7ca5c':datum.value==='Dlinear'?'#d8628c':datum.value==='TimeFilter'?'#f9b3a0':datum.value==='xPatch'?'#b3e3db':'#e2e26a'"},"fillOpacity":{"value":1},"opacity":{"value":1}}}}}}}},
  {"transform":[{"filter":"indexof(['TimeFilter','xPatch','TimeKAN'],datum.model)>=0"}],"mark":{"type":"point","filled":true,"size":14,"opacity":1},"encoding":{"fill":{"field":"model","type":"nominal","scale":{"domain":["Informer","P-Slstm","Dlinear","TimeFilter","xPatch","TimeKAN"],"range":["#8cc2ea","#f7ca5c","#d8628c","#f9b3a0","#b3e3db","#e2e26a"]},"legend":null}}},
  {"transform":[{"filter":"indexof(['Informer','P-Slstm','Dlinear'],datum.model)>=0"}],"mark":{"type":"point","filled":true,"size":65,"stroke":"#333333","strokeWidth":1,"opacity":1},"encoding":{"fill":{"field":"model","type":"nominal","scale":{"domain":["Informer","P-Slstm","Dlinear","TimeFilter","xPatch","TimeKAN"],"range":["#8cc2ea","#f7ca5c","#d8628c","#f9b3a0","#b3e3db","#e2e26a"]},"legend":null}}},
  {"transform":[{"filter":"datum.model=='Informer'"}],"encoding":{"text":{"field":"label","type":"nominal"},"color":{"value":"#1ea5ee"}},"layer":[
   {"transform":[{"filter":"datum.hour=='1h'"}],"mark":{"type":"text","dx":23,"dy":8}},
   {"transform":[{"filter":"datum.hour=='2h'"}],"mark":{"type":"text","dx":7,"dy":10}},
   {"transform":[{"filter":"datum.hour=='3h'"}],"mark":{"type":"text","dx":0,"dy":12}}]},
  {"transform":[{"filter":"datum.model=='P-Slstm'"}],"encoding":{"text":{"field":"label","type":"nominal"},"color":{"value":"#c9a024"}},"layer":[
   {"transform":[{"filter":"datum.hour=='1h'"}],"mark":{"type":"text","dx":21,"dy":5}},
   {"transform":[{"filter":"datum.hour=='2h'"}],"mark":{"type":"text","dx":4,"dy":12}},
   {"transform":[{"filter":"datum.hour=='3h'"}],"mark":{"type":"text","dx":2,"dy":13}}]},
  {"transform":[{"filter":"datum.model=='Dlinear'"}],"encoding":{"text":{"field":"label","type":"nominal"},"color":{"value":"#f0709f"}},"layer":[
   {"transform":[{"filter":"datum.hour=='1h'"}],"mark":{"type":"text","dx":-8,"dy":14}},
   {"transform":[{"filter":"datum.hour=='2h'"}],"mark":{"type":"text","dx":1,"dy":17}},
   {"transform":[{"filter":"datum.hour=='3h'"}],"mark":{"type":"text","dx":2,"dy":11}}]},
  {"transform":[{"filter":"datum.model=='TimeFilter'"}],"encoding":{"text":{"field":"label","type":"nominal"},"color":{"value":"#ff1a1a"}},"layer":[
   {"transform":[{"filter":"datum.hour=='1h'"}],"mark":{"type":"text","dx":26,"dy":7}},
   {"transform":[{"filter":"datum.hour=='2h'"}],"mark":{"type":"text","dx":15,"dy":4,"fontSize":8}},
   {"transform":[{"filter":"datum.hour=='3h'"}],"mark":{"type":"text","dx":-6,"dy":-10}}]},
  {"transform":[{"filter":"datum.model=='xPatch'"}],"encoding":{"text":{"field":"label","type":"nominal"},"color":{"value":"#1f72c6"}},"layer":[
   {"transform":[{"filter":"datum.hour=='1h'"}],"mark":{"type":"text","dx":-22,"dy":0}},
   {"transform":[{"filter":"datum.hour=='2h'"}],"mark":{"type":"text","dx":15,"dy":-9}},
   {"transform":[{"filter":"datum.hour=='3h'"}],"mark":{"type":"text","dx":19,"dy":4}}]},
  {"transform":[{"filter":"datum.model=='TimeKAN'"}],"encoding":{"text":{"field":"label","type":"nominal"},"color":{"value":"#9b9b2b"}},"layer":[
   {"transform":[{"filter":"datum.hour=='1h'"}],"mark":{"type":"text","dx":-4,"dy":-12}},
   {"transform":[{"filter":"datum.hour=='2h'"}],"mark":{"type":"text","dx":-19,"dy":-13}},
   {"transform":[{"filter":"datum.hour=='3h'"}],"mark":{"type":"text","dx":27,"dy":-5}}]}
 ]}
]
}
